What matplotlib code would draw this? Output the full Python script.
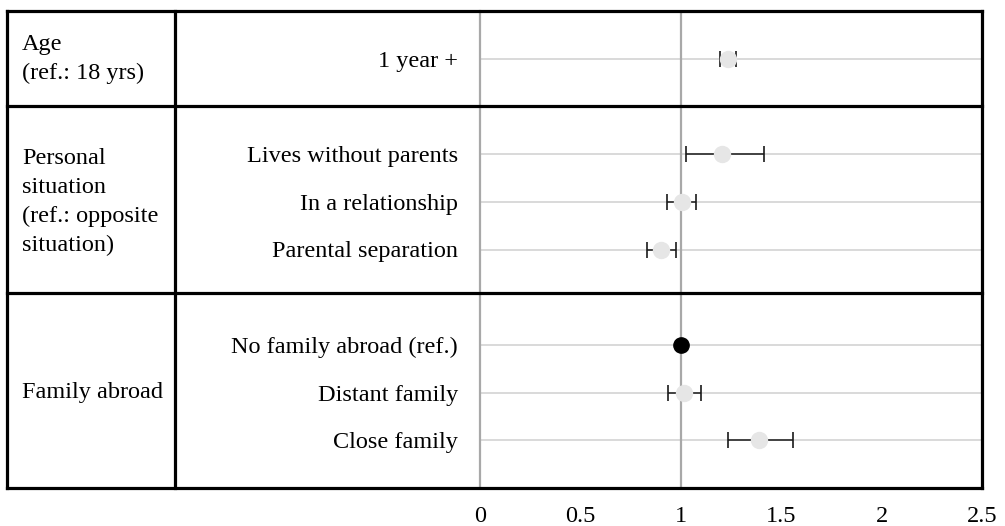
import matplotlib
matplotlib.use("Agg")
import matplotlib.pyplot as plt
from matplotlib.transforms import blended_transform_factory

plt.rcParams['font.family'] = ['Liberation Serif', 'DejaVu Serif']

# Odds ratios with 95% confidence intervals
labels = ["1 year +", "Lives without parents", "In a relationship", "Parental separation",
          "No family abroad (ref.)", "Distant family", "Close family"]
estimates = [1.233, 1.207, 1.004, 0.901, 1.0, 1.016, 1.389]
ci_low = [1.195, 1.026, 0.933, 0.832, None, 0.938, 1.235]
ci_high = [1.277, 1.413, 1.076, 0.978, None, 1.099, 1.557]
is_reference = [False, False, False, False, True, False, False]
row_pos = [1, 3, 4, 5, 7, 8, 9]

groups = ["Age\n(ref.: 18 yrs)",
          "Personal\nsituation\n(ref.: opposite\nsituation)",
          "Family abroad"]
group_center = [1, 4, 8]
group_bounds = [0, 2, 5.92, 10]

xticks = [0, 0.5, 1, 1.5, 2, 2.5]
xtick_labels = ["0", "0.5", "1", "1.5", "2", "2.5"]

FS = 17.5
W, H = 1005, 526
fig = plt.figure(figsize=(W / 100, H / 100), dpi=100)
ax = fig.add_axes([480 / W, (H - 488) / H, (982 - 480) / W, (488 - 11) / H])
ax.set_xlim(0, 2.5)
ax.set_ylim(10, 0)
for s in ax.spines.values():
    s.set_visible(False)
ax.set_yticks([])
ax.set_xticks(xticks)
ax.set_xticklabels(xtick_labels, fontsize=FS)
ax.tick_params(axis='x', length=0, pad=13)

# light row guides and vertical reference lines
for y in row_pos:
    ax.axhline(y, color='#cfcfcf', lw=1.1, zorder=1)
ax.axvline(0, color='#a8a8a8', lw=1.6, zorder=2, clip_on=False)
ax.axvline(1, color='#a8a8a8', lw=1.6, zorder=2)

for y, est, lo, hi, ref in zip(row_pos, estimates, ci_low, ci_high, is_reference):
    if ref:
        ax.plot(est, y, 'o', color='black', ms=11, zorder=4)
    else:
        ax.errorbar(est, y, xerr=[[est - lo], [hi - est]], fmt='none',
                    ecolor='#1a1a1a', elinewidth=1.1, capsize=5.5, capthick=1.2, zorder=3)
        ax.plot(est, y, 'o', color='#e6e6e6', ms=11.5, zorder=4)

# table frame and text columns
tr = blended_transform_factory(fig.transFigure, ax.transData)
x_left, x_mid, x_right = 7 / W, 175 / W, 982 / W
lw_tab = 2.3
for yb in group_bounds:
    ax.plot([x_left, x_right], [yb, yb], color='black', lw=lw_tab, transform=tr,
            clip_on=False, zorder=5, solid_capstyle='projecting')
for xb in (x_left, x_mid, x_right):
    ax.plot([xb, xb], [0, 10], color='black', lw=lw_tab, transform=tr,
            clip_on=False, zorder=5, solid_capstyle='projecting')

for y, lab in zip(row_pos, labels):
    ax.text(458 / W, y, lab, transform=tr, ha='right', va='center_baseline', fontsize=FS)
for y, g in zip(group_center, groups):
    ax.text(22 / W, y, g, transform=tr, ha='left', va='center', fontsize=FS,
            linespacing=1.5)

fig.savefig("out.png", dpi=100)
